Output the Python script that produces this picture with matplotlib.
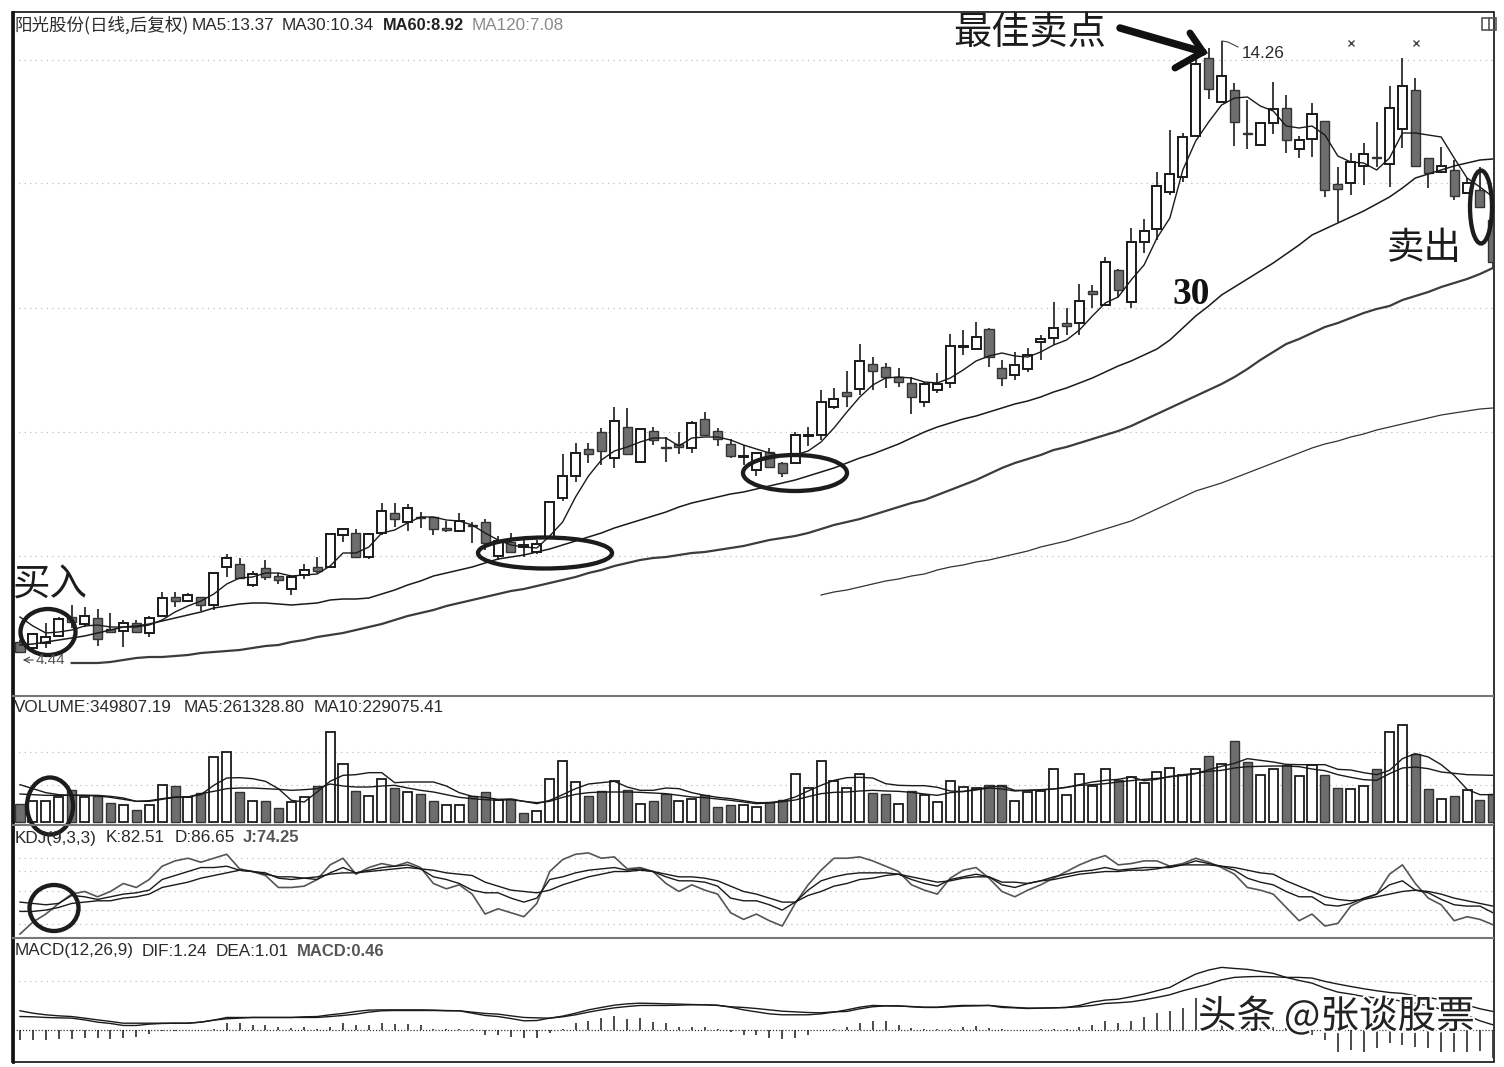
import matplotlib
matplotlib.use("Agg")
import matplotlib.pyplot as plt
import matplotlib.patheffects as pe
from matplotlib.patches import Ellipse, Rectangle
import numpy as np

# ---------- CONFIG ----------
W, H = 1504, 1067
STEP = 12.92           # px between two candles
FIRST = 20.0           # px of the first candle
BODY = 0.70
INK = "#1a1a1a"
FILL = "#6e6e6e"
CJK = ["Noto Sans CJK SC", "DejaVu Sans"]
LATIN = ["Liberation Sans", "DejaVu Sans"]
# ----------------------------

# price pane: the picture has no price axis, so values are levels on its own scale
opens = [54,48,53,60,79,72,78,67,65,73,63,80,99,95,99,91,129,132,111,128,120,107,121,129,129,161,163,139,163,183,
         174,179,179,168,165,171,174,140,154,149,144,159,198,220,247,264,238,269,234,265,249,252,248,277,265,252,239,226,244,233,
         233,260,261,289,304,307,332,329,319,313,294,306,313,349,347,367,328,321,327,354,358,373,373,405,391,426,394,454,467,504,
         519,560,638,594,606,563,551,573,588,547,557,575,512,513,530,539,532,567,606,538,524,526,503,506,476]
closes = [44,62,59,77,74,80,57,64,73,64,78,98,95,101,91,123,138,118,122,119,116,119,126,125,162,167,139,162,185,177,
          188,178,167,166,175,170,153,155,144,151,152,194,220,243,242,245,275,242,267,256,248,249,273,261,257,240,240,243,229,223,
          261,261,294,297,300,335,325,319,314,299,312,312,350,350,359,339,318,331,341,357,368,370,395,402,434,406,454,465,510,522,
          559,632,607,620,574,562,573,587,556,556,582,506,507,534,542,538,588,610,530,523,530,500,513,489,434]
highs = [56,63,73,79,91,89,87,83,76,76,80,104,104,103,99,123,142,138,125,136,123,121,132,139,162,168,167,163,193,193,
         192,184,179,175,183,174,177,160,163,156,156,194,242,253,253,268,289,288,267,269,259,264,275,284,268,257,251,244,248,234,
         264,269,306,308,325,352,339,333,328,319,314,323,362,366,374,368,336,344,348,361,394,388,412,411,439,427,468,477,524,566,
         563,638,648,655,613,596,573,614,601,560,593,575,529,543,553,574,610,638,618,538,549,536,518,529,476]
lows = [43,46,48,59,68,69,50,64,49,64,59,79,89,94,85,86,119,118,109,116,112,101,117,123,128,154,139,137,161,169,
        165,168,161,164,164,153,146,136,144,139,142,159,195,214,233,231,228,241,233,251,234,242,243,260,250,238,231,220,228,219,
        233,250,256,287,289,301,306,308,309,282,289,303,308,341,346,329,310,316,324,336,351,361,361,388,391,399,388,443,456,501,
        514,560,597,594,550,547,551,562,543,538,539,499,474,501,511,529,509,548,530,508,524,496,503,489,429]

ma5 = [79,70,63,64,66,70,71,69,69,69,71,76,84,90,95,102,112,118,119,123,123,120,121,122,130,143,143,149,163,166,
       173,179,179,176,175,171,163,156,151,149,148,160,174,199,220,236,245,249,254,258,258,250,258,259,259,256,251,247,243,240,
       241,245,254,268,284,299,311,318,319,318,314,313,318,326,335,340,343,340,339,344,351,356,366,380,393,399,416,431,458,478,
       526,555,574,591,598,599,590,585,570,568,570,561,540,534,533,526,538,563,563,561,559,538,518,509,499]
ma30 = [51,52,54,56,58,60,63,66,69,70,72,75,78,81,84,88,90,92,93,93,92,91,92,93,96,97,97,98,102,106,
        111,115,120,123,126,129,133,137,139,141,144,147,151,155,159,163,168,172,176,180,184,189,193,196,199,202,204,207,210,213,
        216,220,224,228,233,238,242,247,252,258,264,269,273,277,280,284,288,292,295,299,304,308,313,318,324,330,335,341,347,356,
        368,380,390,401,409,417,425,433,442,451,461,467,473,479,485,492,499,508,518,522,526,530,533,536,537]
MA60_START = 4
ma60 = [33,33,33,34,36,38,39,39,40,41,43,44,45,46,48,50,51,54,56,59,61,63,66,69,72,76,80,83,86,90,
        93,96,99,102,105,107,110,113,116,119,123,126,130,133,136,138,139,141,143,144,146,148,150,153,156,158,160,163,167,171,
        174,177,181,185,189,193,196,201,206,211,216,222,228,233,237,241,246,249,253,257,261,265,270,276,282,288,294,300,306,312,
        319,327,336,344,352,357,363,369,373,378,383,387,390,396,400,404,409,413,417,422,428]
MA120_START = 62
ma120 = [101,104,106,109,112,115,117,120,122,126,129,131,134,136,139,142,145,149,152,155,159,163,167,171,175,181,187,193,199,205,
         209,213,218,223,228,233,238,243,248,252,255,259,262,266,269,272,275,278,281,283,285,287,288]

# volume pane, thousands of shares
volume = [220,248,248,300,380,300,312,232,200,140,200,448,432,300,352,776,840,360,248,248,168,240,300,432,1080,700,368,308,520,408,
          360,340,248,208,200,312,360,260,280,112,132,520,728,480,308,368,488,380,220,248,332,248,280,320,180,200,208,180,240,260,
          580,412,728,488,408,580,352,340,212,368,320,240,488,420,412,440,440,248,360,372,632,320,580,432,632,500,540,472,600,652,
          560,632,792,700,968,720,560,640,688,552,680,568,408,392,428,632,1080,1160,820,392,272,308,388,268,340]
vol_filled = [0,4,6,7,9,12,14,17,19,20,23,26,29,31,32,35,36,38,39,44,45,47,49,50,53,54,55,58,59,66,67,69,75,76,85,92,94,95,98,
              101,102,105,108,109,111,113,114]
vol_ma5 = [448,400,352,328,320,320,320,308,288,248,256,280,300,300,328,440,528,532,520,488,400,260,240,360,488,560,568,592,592,472,
           480,480,480,432,352,308,296,272,276,248,220,260,328,400,456,472,488,420,380,380,408,400,352,320,296,280,256,232,232,252,
           300,372,440,500,532,536,528,460,440,436,436,416,372,364,392,420,432,380,380,388,396,416,448,480,500,512,540,496,512,548,
           556,580,628,668,704,760,740,720,692,688,688,688,632,624,592,568,620,760,820,780,688,560,392,328,328]
vol_ma10 = [336,328,320,320,320,320,312,296,272,248,248,272,296,300,340,368,400,408,408,400,392,380,388,400,456,432,420,420,432,440,
            408,380,360,328,296,280,268,260,268,248,232,248,296,332,352,360,360,360,356,348,340,320,300,292,276,260,240,220,228,244,
            264,304,340,356,360,372,380,372,368,356,336,320,352,368,384,408,396,372,380,384,396,416,440,448,460,480,496,512,524,540,
            568,584,608,620,648,664,668,672,672,664,636,616,568,536,508,500,580,648,660,640,600,584,568,564,560]

# KDJ pane
kdj_k = [91,90,89,90,96,95,93,95,97,98,100,108,111,114,117,117,118,115,114,113,109,108,109,108,113,117,113,115,117,118,
         119,116,110,108,105,100,98,98,94,91,94,108,110,113,115,116,117,115,116,114,110,107,107,106,103,94,92,92,
         89,85,91,100,107,110,112,113,113,113,112,108,105,103,108,110,112,110,104,102,105,107,110,112,114,115,117,115,
         116,117,117,117,119,122,120,118,115,109,106,104,99,95,95,89,88,90,94,97,104,107,100,98,93,89,88,88,83]
kdj_d = [84,84,85,87,90,91,92,92,94,95,97,102,104,106,109,111,113,115,114,112,110,110,109,110,112,113,113,114,115,116,
         117,116,115,113,112,111,106,103,100,99,98,100,104,107,110,112,114,114,115,114,112,110,110,109,107,103,99,97,
         94,91,91,96,99,103,105,108,109,111,112,110,108,106,107,109,110,110,106,106,105,107,108,110,112,113,114,114,
         115,115,116,118,119,119,119,118,117,115,113,112,107,103,99,95,93,92,93,95,97,99,100,99,97,94,92,90,88]
kdj_j = [67,76,82,90,97,99,95,99,105,102,108,118,122,124,121,124,127,116,114,111,102,102,103,108,119,124,112,117,120,118,
         121,117,105,101,104,97,82,86,83,80,90,114,123,127,128,124,125,116,117,114,105,99,104,100,97,83,78,82,
         77,73,90,104,115,124,124,125,122,118,114,104,100,97,109,115,117,109,99,95,100,104,109,114,119,123,126,119,
         120,122,122,118,120,124,121,117,112,102,100,97,87,77,82,73,75,88,93,97,112,119,105,94,89,77,80,78,74]

# MACD pane
dif = [1.43,1.25,1.13,1.05,1.0,.88,.75,.63,.5,.5,.5,.5,.5,.5,.58,.73,.93,.93,.93,.93,.93,.93,.98,1.0,1.13,1.23,1.38,1.48,1.5,1.5,
       1.5,1.5,1.48,1.45,1.43,1.25,1.08,1.0,.85,.68,.7,.88,1.03,1.25,1.5,1.68,1.85,1.95,2.0,1.98,1.95,1.93,1.9,1.88,1.85,1.7,1.5,1.35,
       1.2,1.13,1.13,1.13,1.2,1.33,1.5,1.7,1.83,1.8,1.78,1.75,1.7,1.7,1.78,1.83,1.83,1.83,1.68,1.65,1.6,1.63,1.65,1.68,1.83,2.08,2.23,2.3,
       2.48,2.68,2.93,3.18,3.7,4.18,4.48,4.68,4.6,4.53,4.38,4.23,3.93,3.7,3.5,3.13,2.83,2.68,2.5,2.38,2.33,2.13,2.0,1.8,1.55,1.33,1.08,.68,.38]
dea = [1.0,.98,.93,.9,.88,.75,.58,.48,.33,.33,.43,.48,.5,.5,.58,.73,.83,.88,.93,.93,.93,.93,.93,.93,1.0,1.08,1.18,1.33,1.43,1.45,
       1.45,1.45,1.45,1.43,1.43,1.33,1.23,1.18,1.05,.93,.9,.88,.98,1.13,1.33,1.5,1.65,1.75,1.83,1.83,1.83,1.85,1.88,1.88,1.83,1.73,1.68,1.6,
       1.5,1.4,1.35,1.3,1.28,1.35,1.38,1.58,1.73,1.8,1.8,1.73,1.68,1.68,1.73,1.78,1.8,1.83,1.75,1.68,1.63,1.63,1.65,1.68,1.73,1.83,1.98,2.03,
       2.1,2.25,2.43,2.63,2.93,3.18,3.43,3.75,3.93,3.98,4.0,3.98,3.93,3.93,3.88,3.63,3.43,3.25,3.08,2.93,2.8,2.73,2.55,2.43,2.25,2.05,1.85,1.58,1.38]
macd_bar = [-.75,-.75,-.75,-.7,-.68,-.63,-.63,-.7,-.58,-.5,-.33,-.08,-.05,-.03,-.03,.05,.5,.5,.38,.38,.2,.13,.18,.08,.2,.5,.33,.38,.5,.43,
            .45,.33,.05,.03,.05,.05,-.38,-.38,-.5,-.63,-.63,-.25,.03,.5,.68,.88,1.05,.8,.88,.58,.5,.23,.25,.18,.05,-.18,-.38,-.38,
            -.63,-.7,-.63,-.38,-.03,.05,.25,.5,.68,.68,.33,.13,.05,.03,.05,.25,.3,.13,.03,-.03,0,.03,.08,.05,.25,.33,.63,.5,
            .68,.93,1.25,1.43,1.63,2.38,.38,.33,.25,.18,.13,.25,.13,-.13,-.38,-.75,-1.63,-1.5,-1.63,-1.38,-1.0,-1.13,-1.25,-1.38,-1.63,-1.63,-1.63,-1.58,-2.13]

# dotted levels of each pane
price_grid = [636, 513, 388, 264, 140]
vol_grid = [840, 440]
kdj_grid = [124, 114.5, 99, 85, 74.5]
macd_grid = [3.68]


def pane(fig, top, bottom, ylim, grid):
    ax = fig.add_axes([13 / W, 1 - bottom / H, (1493 - 13) / W, (bottom - top) / H])
    ax.set_xlim((13 - FIRST) / STEP, (1493 - FIRST) / STEP)
    ax.set_ylim(*ylim)
    ax.set_xticks([])
    ax.set_yticks([])
    for s in ax.spines.values():
        s.set_visible(False)
    for g in grid:
        ax.axhline(g, color="#b4b4b4", lw=0.8, ls=(0, (1, 4)), zorder=0)
    return ax


def main():
    fig = plt.figure(figsize=(W / 100, H / 100), dpi=100, facecolor="white")
    idx = np.arange(len(opens))

    # price pane
    ax = pane(fig, 13, 696, (0, 683), price_grid)
    ax.vlines(idx, lows, highs, color=INK, lw=1.2, zorder=2)
    o, c = np.array(opens), np.array(closes)
    up = c >= o
    ax.bar(idx[up], (c - o)[up], bottom=o[up], width=BODY, facecolor="white", edgecolor=INK, lw=1.4, zorder=3)
    ax.bar(idx[~up], (o - c)[~up], bottom=c[~up], width=BODY, facecolor=FILL, edgecolor="#333333", lw=1.0, zorder=3)
    ax.plot(idx, ma5, color=INK, lw=1.0, zorder=4)
    ax.plot(idx, ma30, color=INK, lw=1.1, zorder=4)
    ax.plot(idx[MA60_START:], ma60, color="#3c3c3c", lw=1.6, zorder=4)
    ax.plot(idx[MA120_START:], ma120, color="#333333", lw=0.9, zorder=4)

    # volume pane
    ax = pane(fig, 697, 825, (-36, 1500), vol_grid)
    vol = np.array(volume)
    filled = np.isin(idx, vol_filled)
    ax.bar(idx[~filled], vol[~filled], width=BODY, facecolor="white", edgecolor=INK, lw=1.3, zorder=2)
    ax.bar(idx[filled], vol[filled], width=BODY, facecolor=FILL, edgecolor="#333333", lw=1.0, zorder=2)
    ax.plot(idx, vol_ma5, color=INK, lw=1.0, zorder=3)
    ax.plot(idx, vol_ma10, color=INK, lw=1.0, zorder=3)

    # KDJ pane
    ax = pane(fig, 825, 938, (64, 149), kdj_grid)
    ax.plot(idx, kdj_j, color="#555555", lw=1.2, zorder=2)
    ax.plot(idx, kdj_k, color=INK, lw=1.0, zorder=3)
    ax.plot(idx, kdj_d, color=INK, lw=1.0, zorder=3)

    # MACD pane
    ax = pane(fig, 938, 1061, (-2.33, 6.88), macd_grid)
    ax.axhline(0, color="#333333", lw=0.9, ls=(0, (1, 1.5)), zorder=1)
    ax.vlines(idx, 0, macd_bar, color=INK, lw=1.1, zorder=2)
    ax.plot(idx, dif, color=INK, lw=1.0, zorder=3)
    ax.plot(idx, dea, color=INK, lw=1.0, zorder=3)

    # overlay in picture pixels for frame, labels and hand drawn marks
    ov = fig.add_axes([0, 0, 1, 1], zorder=10)
    ov.set_xlim(0, W)
    ov.set_ylim(H, 0)
    ov.axis("off")
    ov.patch.set_alpha(0)

    ov.add_patch(Rectangle((12, 12), 1482, 1050, fill=False, ec="#111111", lw=1.2))
    ov.plot([12.5, 12.5], [12, 1062], color="#111111", lw=2.0)
    for y in (696, 825, 938):
        ov.plot([13, 1493], [y, y], color="#777777", lw=1.5)

    def label(x, y, s, size=12.3, color="#2a2a2a", **kw):
        ov.text(x, y, s, fontsize=size, color=color, family=kw.pop("family", LATIN), va="center", **kw)

    label(14, 25, "阳光股份(日线,后复权)", family=CJK, size=12.6)
    label(192, 25, "MA5:13.37")
    label(282, 25, "MA30:10.34")
    label(383, 25, "MA60:8.92", color="#222222", fontweight="bold", size=11.8)
    label(472, 25, "MA120:7.08", color="#8a8a8a")
    label(14, 708, "VOLUME:349807.19")
    label(184, 708, "MA5:261328.80")
    label(314, 708, "MA10:229075.41")
    label(15, 838, "KDJ(9,3,3)")
    label(106, 838, "K:82.51")
    label(175, 838, "D:86.65")
    label(243, 838, "J:74.25", color="#555555", fontweight="bold", size=12)
    label(15, 951, "MACD(12,26,9)")
    label(142, 951, "DIF:1.24")
    label(216, 951, "DEA:1.01")
    label(297, 951, "MACD:0.46", color="#555555", fontweight="bold", size=12)

    label(1242, 53, "14.26", size=12.3)
    ov.plot([1222, 1222, 1228, 1238], [47, 41, 42, 47], color="#444444", lw=0.8)
    label(36, 660, "4.44", size=11, color="#555555")
    ov.annotate("", xy=(20, 660), xytext=(36, 660), arrowprops=dict(arrowstyle="->", lw=0.8, color="#444444"))
    for x in (1351, 1416):
        ov.plot(x, 43, marker="x", ms=5, mew=1.0, color="#444444")
    ov.add_patch(Rectangle((1482, 18), 14, 12, fill=False, ec="#555555", lw=1.2))
    ov.plot([1489, 1489], [18, 30], color="#555555", lw=1.2)

    label(953, 33, "最佳卖点", size=27.5, family=CJK, color="#1c1c1c")
    label(12, 585, "买入", size=27, family=CJK, color="#1c1c1c")
    label(1387, 248, "卖出", size=27, family=CJK, color="#1c1c1c")
    ov.text(1172, 294, "30", fontsize=27, family=["Liberation Serif"], fontweight="bold", color="#111111", va="center")

    # hand drawn arrow
    ov.plot([1120, 1203], [28, 52], color="#111111", lw=5.4, solid_capstyle="round")
    ov.plot([1190, 1203, 1175], [33, 52, 68], color="#111111", lw=5.0, solid_capstyle="round", solid_joinstyle="miter")

    # hand drawn rings
    rings = [(48, 632, 55, 46), (545, 553, 134, 31), (795, 473, 104, 36), (1481, 207, 22, 73), (50, 806, 46, 57), (54, 908, 49, 46)]
    for cx, cy, w, h in rings:
        ov.add_patch(Ellipse((cx, cy), w, h, fill=False, ec="#1c1c1c", lw=3.1))

    ov.text(1198, 1017, "头条 @张谈股票", fontsize=27.8, family=CJK, color="#222222", va="center",
            path_effects=[pe.withStroke(linewidth=3, foreground="white")])

    fig.savefig("out.png", dpi=100, facecolor="white")


if __name__ == "__main__":
    main()
